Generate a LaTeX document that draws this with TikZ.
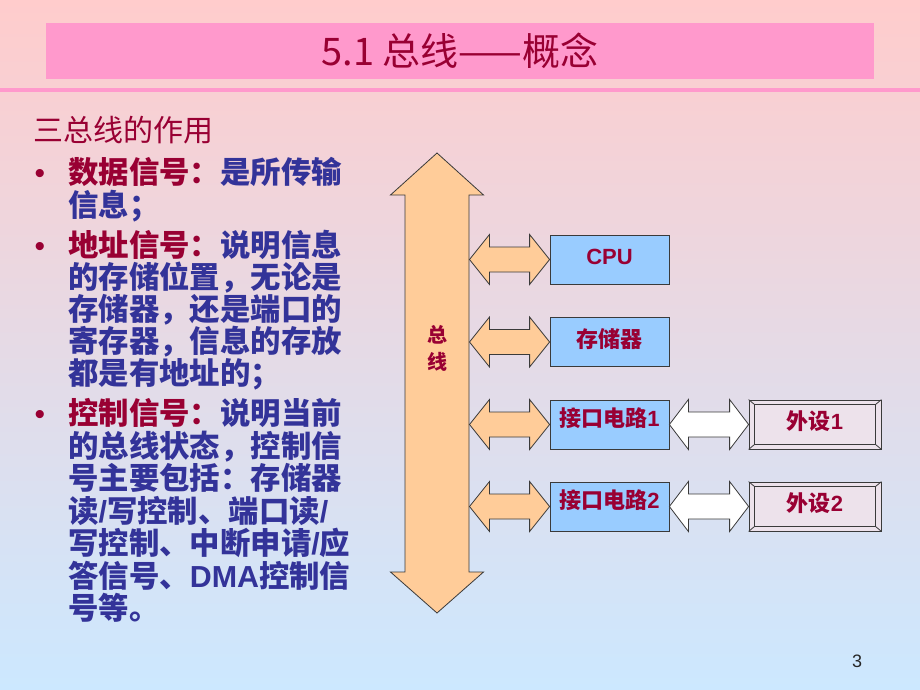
\documentclass[tikz,border=0pt]{standalone}
\usepackage{fontspec}
\setmainfont{Liberation Sans}
\newfontfamily\cjk{Noto Sans CJK SC}
\newfontfamily\arial{Liberation Sans}
\usetikzlibrary{calc}
\definecolor{bgpink}{HTML}{FFCCCC}
\definecolor{bgblue}{HTML}{CCE8FF}
\definecolor{titlepink}{HTML}{FF99CC}
\definecolor{darkred}{HTML}{990033}
\definecolor{navy}{HTML}{333399}
\definecolor{busorange}{HTML}{FFCC99}
\definecolor{boxblue}{HTML}{99CCFF}
\definecolor{edge}{HTML}{3A3A3A}
\tikzset{
  body/.style={anchor=base west, inner sep=0pt, text=navy,
    font=\cjk\bfseries\fontsize{30.4}{33}\selectfont},
  header/.style={anchor=base west, inner sep=0pt, text=darkred,
    font=\cjk\fontsize{30}{33}\selectfont},
  bul/.style={anchor=base, inner sep=0pt, text=darkred,
    font=\arial\fontsize{30}{33}\selectfont},
  boxbase/.style={draw=edge, line width=0.8pt, inner sep=0pt,
    minimum height=49pt, text=darkred, text height=10pt, text depth=0pt,
    font=\cjk\bfseries\fontsize{22}{24}\selectfont},
  bluebox/.style={boxbase, fill=boxblue, minimum width=119pt},
  devbox/.style={boxbase, fill=white!40!bgblue!60!bgpink, minimum width=132pt},
  blockarrow/.style={draw=edge, line width=0.8pt, line join=miter},
  bevel/.style={draw=edge, line width=0.8pt},
}
\newcommand\blockarr[4]{% from, to, fill, head length
  \path let \p1=(#1), \p2=(#2) in [blockarrow, fill=#3]
    (\x1,\y1) -- (\x1+#4,\y1+25pt) -- (\x1+#4,\y1+12.5pt)
    -- (\x2-#4,\y1+12.5pt) -- (\x2-#4,\y1+25pt) -- (\x2,\y1)
    -- (\x2-#4,\y1-25pt) -- (\x2-#4,\y1-12.5pt)
    -- (\x1+#4,\y1-12.5pt) -- (\x1+#4,\y1-25pt) -- cycle;}
\newcommand\bevelbox[1]{%
  \draw[bevel] ($(#1.north west)+(6,5)$) rectangle ($(#1.south east)+(-6,-5)$);
  \draw[bevel] (#1.north west) -- ++(6,5);
  \draw[bevel] (#1.north east) -- ++(-6,5);
  \draw[bevel] (#1.south west) -- ++(6,-5);
  \draw[bevel] (#1.south east) -- ++(-6,-5);}
\begin{document}
\begin{tikzpicture}[x=1pt,y=-1pt]
\useasboundingbox (0,0) rectangle (920,690);
\shade[top color=bgpink, bottom color=bgblue, middle color=bgpink!50!bgblue] (0,0) rectangle (920,690);
% title
\node[fill=titlepink, minimum width=828pt, minimum height=56pt, inner sep=0pt,
  text=darkred, font=\cjk\fontsize{38}{42}\selectfont] (title) at (460,51) {5.1 总线——概念};
\draw[titlepink, line width=4pt] (0,90.5) -- (920,90.5);
% left text
\node[header] (hdr) at (33,141.4) {三总线的作用};
\node[bul] (b1) at (40,183.4) {•};
\node[body] (l1) at (68,183.4) {{\color{darkred}数据信号：}是所传输};
\node[body] (l2) at (68,216.4) {信息；};
\node[bul] (b2) at (40,256.4) {•};
\node[body] (l3) at (68,256.4) {{\color{darkred}地址信号：}说明信息};
\node[body] (l4) at (68,288.4) {的存储位置，无论是};
\node[body] (l5) at (68,320.4) {存储器，还是端口的};
\node[body] (l6) at (68,352.4) {寄存器，信息的存放};
\node[body] (l7) at (68,384.4) {都是有地址的；};
\node[bul] (b3) at (40,424.4) {•};
\node[body] (l8) at (68,424.4) {{\color{darkred}控制信号：}说明当前};
\node[body] (l9) at (68,457.4) {的总线状态，控制信};
\node[body] (l10) at (68,489.4) {号主要包括：存储器};
\node[body] (l11) at (68,522.4) {读{\arial\bfseries /}写控制、端口读{\arial\bfseries /}};
\node[body] (l12) at (68,554.4) {写控制、中断申请{\arial\bfseries /}应};
\node[body] (l13) at (68,587.4) {答信号、{\arial\bfseries DMA}控制信};
\node[body] (l14) at (68,619.4) {号等。};
% bus
\draw[blockarrow, fill=busorange] (437,153) -- (483.5,195) -- (469,195) -- (469,572)
  -- (483.5,572) -- (437,613) -- (390.5,572) -- (405,572) -- (405,195)
  -- (390.5,195) -- cycle;
\node[inner sep=0pt, text=darkred, align=center, font=\cjk\bfseries\fontsize{20}{27}\selectfont]
  (bustext) at (437,348) {总\\线};
% boxes
\node[bluebox] (cpu) at (609.5,259.5) {\arial\bfseries CPU};
\node[bluebox] (mem) at (609.5,342) {存储器};
\node[bluebox, text height=3pt] (if1) at (609.5,424.5) {接口电路{\arial\bfseries 1}};
\node[bluebox, text height=3pt] (if2) at (609.5,506.5) {接口电路{\arial\bfseries 2}};
\node[devbox] (dev1) at (815,424.5) {外设{\arial\bfseries 1}};
\node[devbox] (dev2) at (815,506.5) {外设{\arial\bfseries 2}};
\bevelbox{dev1}
\bevelbox{dev2}
% connectors
\coordinate (pcpu) at (469.5,259.5);
\coordinate (pmem) at (469.5,342);
\coordinate (pif1) at (469.5,424.5);
\coordinate (pif2) at (469.5,506.5);
\blockarr{pcpu}{cpu.west}{busorange}{20pt}
\blockarr{pmem}{mem.west}{busorange}{20pt}
\blockarr{pif1}{if1.west}{busorange}{20pt}
\blockarr{pif2}{if2.west}{busorange}{20pt}
\blockarr{if1.east}{dev1.west}{white}{19pt}
\blockarr{if2.east}{dev2.west}{white}{19pt}
% page number
\node[inner sep=0pt, text=black!85, font=\arial\fontsize{18}{20}\selectfont] (pg) at (857,661) {3};
\end{tikzpicture}
\end{document}
